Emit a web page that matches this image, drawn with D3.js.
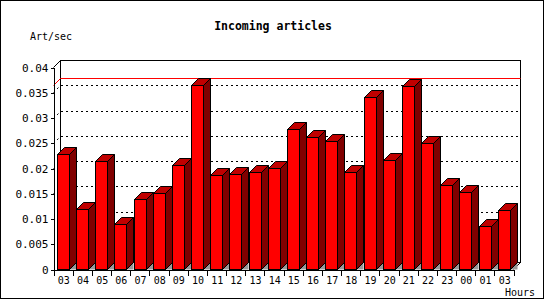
<!DOCTYPE html>
<html>
<head>
<meta charset="utf-8">
<script src="https://cdn.jsdelivr.net/npm/d3@7"></script>
<style>
  body { margin: 0; background: #fff; }
  .chart text { font-family: "DejaVu Sans Mono", monospace; fill: #000; }
</style>
</head>
<body>
<div class="chart"></div>
<script>
var hours = ["03", "04", "05", "06", "07", "08", "09", "10", "11", "12", "13", "14",
  "15", "16", "17", "18", "19", "20", "21", "22", "23", "00", "01", "03"];

var artPerSec = [0.0228, 0.0119, 0.0214, 0.0090, 0.0139, 0.0151, 0.0206, 0.0365,
  0.0187, 0.0189, 0.0193, 0.0200, 0.0278, 0.0262, 0.0254, 0.0192,
  0.0340, 0.0216, 0.0363, 0.0250, 0.0167, 0.0153, 0.0086, 0.0117];

var yTicks = [0, 0.005, 0.01, 0.015, 0.02, 0.025, 0.03, 0.035, 0.04];
var yTickLabels = ["0", "0.005", "0.01", "0.015", "0.02", "0.025", "0.03", "0.035", "0.04"];

function init() {
  var w = 550;
  var h = 300;
  var depth = 7;
  var left = 53.5, right = 513.5, bottom = 269.5, top = 67.5;

  var svg = d3.select(".chart")
    .append("svg")
    .attr("width", w)
    .attr("height", h);

  // outer frame
  svg.append("rect")
    .attr("x", 0.5).attr("y", 0.5)
    .attr("width", 543).attr("height", 298)
    .attr("fill", "#fff")
    .attr("stroke", "#000");

  var idx = d3.range(hours.length);

  var xScale = d3.scaleBand()
    .domain(idx)
    .range([left, right])
    .paddingInner(0.4)
    .paddingOuter(0.2);

  var xEdge = d3.scaleLinear()
    .domain([0, hours.length])
    .range([left, right]);

  var yScale = d3.scaleLinear()
    .domain([0, 0.04])
    .range([bottom, top]);

  function snap(v) { return Math.round(v - 0.5) + 0.5; }

  // back wall frame
  var bx0 = left + depth, bx1 = right + depth;
  var by0 = top - depth, by1 = bottom - depth;
  svg.append("path")
    .attr("d", "M" + bx0 + "," + by1 + "V" + by0 + "H" + bx1 + "V" + by1 + "H" + bx0)
    .attr("fill", "none")
    .attr("stroke", "#000")
    .attr("shape-rendering", "crispEdges");

  // dotted grid on back wall and left wall
  var grid = svg.append("g")
    .attr("stroke", "#000")
    .attr("stroke-dasharray", "2,3")
    .attr("fill", "none");

  grid.selectAll("line.back")
    .data(yTicks.slice(1, -1))
    .enter().append("line")
    .attr("class", "back")
    .attr("x1", bx0).attr("x2", bx1)
    .attr("y1", function(d) { return snap(yScale(d)) - depth; })
    .attr("y2", function(d) { return snap(yScale(d)) - depth; })
    .attr("shape-rendering", "crispEdges");

  grid.selectAll("line.side")
    .data(yTicks.slice(1, -1))
    .enter().append("line")
    .attr("class", "side")
    .attr("x1", left).attr("x2", bx0)
    .attr("y1", function(d) { return snap(yScale(d)); })
    .attr("y2", function(d) { return snap(yScale(d)) - depth; });

  // max line
  var maxY = snap(yScale(d3.max(artPerSec)));
  svg.append("path")
    .attr("d", "M" + left + "," + maxY + "L" + bx0 + "," + (maxY - depth) + "H" + bx1)
    .attr("fill", "none")
    .attr("stroke", "#ff0000");

  // left wall top edge and floor right edge
  svg.append("line")
    .attr("x1", left).attr("y1", top)
    .attr("x2", bx0).attr("y2", by0)
    .attr("stroke", "#000");
  svg.append("line")
    .attr("x1", right).attr("y1", bottom)
    .attr("x2", bx1).attr("y2", by1)
    .attr("stroke", "#000");

  // bars
  var bw = Math.round(xScale.bandwidth());
  var bars = svg.selectAll("g.bar")
    .data(artPerSec)
    .enter().append("g")
    .attr("class", "bar")
    .attr("stroke", "#000")
    .attr("stroke-linejoin", "miter");

  function fx(d, i) { return snap(xScale(i)); }
  function fy(d) { return snap(yScale(d)); }

  bars.append("polygon")
    .attr("fill", "#999999")
    .attr("stroke", "none")
    .attr("points", function(d, i) {
      var r = fx(d, i) + bw;
      return [[r, bottom], [r + depth, bottom - depth], [r + depth, bottom]].join(" ");
    });

  bars.append("polygon")
    .attr("fill", "#800000")
    .attr("points", function(d, i) {
      var r = fx(d, i) + bw, t = fy(d);
      return [[r, t], [r + depth, t - depth], [r + depth, bottom - depth], [r, bottom]].join(" ");
    });

  bars.append("polygon")
    .attr("fill", "#c00000")
    .attr("points", function(d, i) {
      var l = fx(d, i), t = fy(d);
      return [[l, t], [l + depth, t - depth], [l + bw + depth, t - depth], [l + bw, t]].join(" ");
    });

  bars.append("rect")
    .attr("fill", "#ff0000")
    .attr("x", fx)
    .attr("y", fy)
    .attr("width", bw)
    .attr("height", function(d) { return bottom - fy(d); });

  // y axis
  var yAxis = d3.axisLeft(yScale)
    .tickValues(yTicks)
    .tickSize(3)
    .tickSizeOuter(0)
    .tickPadding(2)
    .tickFormat(function(d, i) { return yTickLabels[i]; });

  svg.append("g")
    .attr("transform", "translate(" + left + ",0)")
    .call(yAxis)
    .call(function(g) {
      g.attr("font-family", null).attr("font-size", null);
      g.selectAll("text").attr("font-size", "11px");
      g.selectAll("line, path").attr("shape-rendering", "crispEdges");
    });

  // x axis: boundary ticks and centred labels
  svg.append("g")
    .attr("transform", "translate(0," + bottom + ")")
    .call(d3.axisBottom(xEdge)
      .tickValues(d3.range(hours.length + 1))
      .tickSize(6)
      .tickSizeOuter(0)
      .tickFormat(""))
    .call(function(g) {
      g.selectAll("line, path").attr("shape-rendering", "crispEdges");
    });

  svg.append("g")
    .attr("transform", "translate(0," + bottom + ")")
    .call(d3.axisBottom(xScale)
      .tickSize(0)
      .tickPadding(7)
      .tickFormat(function(d) { return hours[d]; }))
    .call(function(g) {
      g.attr("font-family", null).attr("font-size", null);
      g.select(".domain").remove();
      g.selectAll("text")
        .attr("font-size", "10px")
        .attr("x", bw / 2 - xScale.bandwidth() / 2 + 0.5);
    });

  svg.append("text")
    .attr("x", 273)
    .attr("y", 29.5)
    .attr("text-anchor", "middle")
    .attr("font-size", "11.5px")
    .attr("font-weight", "bold")
    .text("Incoming articles");

  svg.append("text")
    .attr("x", 30)
    .attr("y", 40)
    .attr("font-size", "10px")
    .text("Art/sec");

  svg.append("text")
    .attr("x", 535)
    .attr("y", 296)
    .attr("text-anchor", "end")
    .attr("font-size", "10px")
    .text("Hours");
}

window.onload = init;
</script>
</body>
</html>
